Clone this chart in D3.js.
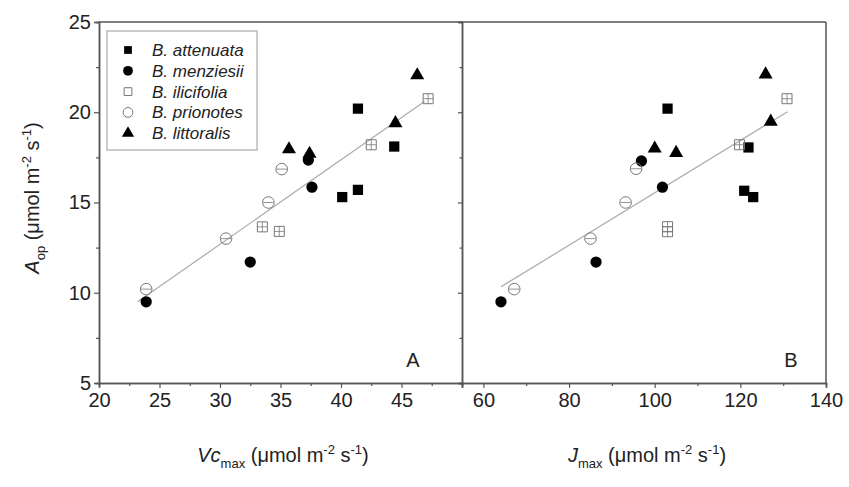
<!DOCTYPE html>
<html>
<head>
  <meta charset="utf-8">
  <title>Aop vs Vcmax and Jmax</title>
  <script src="https://d3js.org/d3.v7.min.js"></script>
  <style>
    body { margin: 0; background: #fff; }
    text { font-family: Arial, "Liberation Sans", sans-serif; fill: #222; }
  </style>
</head>
<body>
<svg width="849" height="487"></svg>
<script>
// species and values (4 points each)
var species = ["B. attenuata", "B. menziesii", "B. ilicifolia", "B. prionotes", "B. littoralis"];
var vcmax = [
  [41.4, 44.4, 41.4, 40.1],
  [23.9, 32.5, 37.6, 37.3],
  [33.5, 34.9, 42.5, 47.2],
  [23.9, 30.5, 34.0, 35.1],
  [35.7, 37.4, 44.5, 46.3]
];
var aopA = [
  [20.2, 18.1, 15.7, 15.3],
  [9.5, 11.7, 15.85, 17.35],
  [13.65, 13.4, 18.2, 20.75],
  [10.2, 13.0, 15.0, 16.85],
  [17.95, 17.7, 19.4, 22.05]
];
var jmax = [
  [103.0, 121.9, 120.9, 123.0],
  [64.1, 86.3, 101.8, 96.9],
  [103.0, 103.0, 119.8, 130.9],
  [67.2, 85.0, 93.2, 95.65],
  [100.0, 105.0, 127.1, 125.9]
];
var aopB = [
  [20.2, 18.05, 15.65, 15.3],
  [9.5, 11.7, 15.85, 17.3],
  [13.66, 13.38, 18.2, 20.75],
  [10.2, 13.0, 15.0, 16.87],
  [17.99, 17.75, 19.48, 22.1]
];
var fitA = [[23.2, 9.5], [46.9, 20.6]];
var fitB = [[64.1, 10.33], [131.0, 20.03]];

var xTicksA = [20, 25, 30, 35, 40, 45];
var xMinorA = [22.5, 27.5, 32.5, 37.5, 42.5, 47.5];
var xTicksB = [60, 80, 100, 120, 140];
var xMinorB = [70, 90, 110, 130];
var yTicks = [5, 10, 15, 20, 25];
var yMinor = [7.5, 12.5, 17.5, 22.5];

var svg = d3.select("svg");
var axisCol = "#555";
var openCol = "#777";

var y = d3.scaleLinear().domain([5, 25]).range([383, 22]);
var xA = d3.scaleLinear().domain([20, 50]).range([99, 462]);
var xB = d3.scaleLinear().domain([55, 140]).range([462, 826]);

// marker drawing
var styles = [
  {type: d3.symbolSquare, fill: "#000", size: 105, legSize: 60},
  {type: d3.symbolCircle, fill: "#000", size: 100, legSize: 75},
  {type: d3.symbolSquare, fill: "none", size: 100, legSize: 60, inner: "plus"},
  {type: d3.symbolCircle, fill: "none", size: 105, legSize: 75, inner: "dash"},
  {type: d3.symbolTriangle, fill: "#000", size: 85, legSize: 65}
];

function marker(g, st, cx, cy, size, withInner) {
  var m = g.append("g").attr("transform", "translate(" + cx + "," + cy + ")");
  m.append("path")
    .attr("d", d3.symbol().type(st.type).size(size)())
    .style("fill", st.fill)
    .style("stroke", st.fill === "none" ? openCol : "none")
    .style("stroke-width", 1);
  if (withInner && st.inner) {
    var h = Math.sqrt(size) / 2;
    m.append("line").attr("x1", -h).attr("x2", h).attr("y1", 0).attr("y2", 0)
      .style("stroke", openCol).style("stroke-width", 0.8);
    if (st.inner === "plus") {
      m.append("line").attr("x1", 0).attr("x2", 0).attr("y1", -h).attr("y2", h)
        .style("stroke", openCol).style("stroke-width", 0.8);
    }
  }
}

function panel(x, xs, ys, fit, majors, minors) {
  var g = svg.append("g");
  // fit line
  g.append("line")
    .attr("x1", x(fit[0][0])).attr("y1", y(fit[0][1]))
    .attr("x2", x(fit[1][0])).attr("y2", y(fit[1][1]))
    .style("stroke", "#aaa").style("stroke-width", 1.2);
  species.forEach(function(s, i) {
    xs[i].forEach(function(v, j) {
      marker(g, styles[i], x(v), y(ys[i][j]), styles[i].size, true);
    });
  });
  // x axis
  var ax = g.append("g").attr("transform", "translate(0,383)")
    .call(d3.axisBottom(x).tickValues(majors).tickSize(5).tickPadding(5).tickFormat(d3.format("d")));
  var axm = g.append("g").attr("transform", "translate(0,383)")
    .call(d3.axisBottom(x).tickValues(minors).tickSize(3).tickFormat(""));
  [ax, axm].forEach(function(a) {
    a.select(".domain").style("stroke", axisCol).style("stroke-width", 1.5);
    a.selectAll("line").style("stroke", axisCol).style("stroke-width", 1.2);
  });
  ax.selectAll("text").style("font-size", "20px").style("fill", "#222");
}

panel(xA, vcmax, aopA, fitA, xTicksA, xMinorA);
panel(xB, jmax, aopB, fitB, xTicksB, xMinorB);

// frame: top, right
svg.append("line").attr("x1", 99).attr("x2", 826).attr("y1", 22).attr("y2", 22)
  .style("stroke", axisCol).style("stroke-width", 1.5);
svg.append("line").attr("x1", 826).attr("x2", 826).attr("y1", 22).attr("y2", 383)
  .style("stroke", axisCol).style("stroke-width", 1.5);

// left y axis
var ay = svg.append("g").attr("transform", "translate(99,0)")
  .call(d3.axisLeft(y).tickValues(yTicks).tickSize(5).tickPadding(3));
var aym = svg.append("g").attr("transform", "translate(99,0)")
  .call(d3.axisLeft(y).tickValues(yMinor).tickSize(3).tickFormat(""));
// divider between panels
var ad = svg.append("g").attr("transform", "translate(462,0)")
  .call(d3.axisLeft(y).tickValues(yTicks).tickSize(4).tickFormat(""));
var adm = svg.append("g").attr("transform", "translate(462,0)")
  .call(d3.axisLeft(y).tickValues(yMinor).tickSize(2.5).tickFormat(""));
[ay, aym, ad, adm].forEach(function(a) {
  a.select(".domain").style("stroke", axisCol).style("stroke-width", 1.5);
  a.selectAll("line").style("stroke", axisCol).style("stroke-width", 1.2);
});
ay.selectAll("text").style("font-size", "20px").style("fill", "#222");

// panel letters
svg.append("text").attr("x", 413).attr("y", 367).attr("text-anchor", "middle")
  .style("font-size", "20px").text("A");
svg.append("text").attr("x", 791).attr("y", 367).attr("text-anchor", "middle")
  .style("font-size", "20px").text("B");

// legend
var leg = svg.append("g");
leg.append("rect").attr("x", 107).attr("y", 31).attr("width", 150).attr("height", 119)
  .style("fill", "#fff").style("stroke", "#999").style("stroke-width", 1);
species.forEach(function(s, i) {
  var ly = 50 + i * 20.8;
  marker(leg, styles[i], 128, ly, styles[i].legSize, false);
  leg.append("text").attr("x", 152).attr("y", ly + 6)
    .style("font-size", "17px").style("font-style", "italic").text(s);
});

// axis titles
function unitTitle(t, sym, sub) {
  t.append("tspan").style("font-style", "italic").text(sym);
  t.append("tspan").attr("dy", 6).style("font-size", "13px").text(sub);
  t.append("tspan").attr("dy", -6).text(" (\u03bcmol m");
  t.append("tspan").attr("dy", -8).style("font-size", "13px").text("-2");
  t.append("tspan").attr("dy", 8).text(" s");
  t.append("tspan").attr("dy", -8).style("font-size", "13px").text("-1");
  t.append("tspan").attr("dy", 8).text(")");
}

unitTitle(svg.append("text").attr("x", 283).attr("y", 462).attr("text-anchor", "middle")
  .style("font-size", "20px"), "Vc", "max");
unitTitle(svg.append("text").attr("x", 647).attr("y", 462).attr("text-anchor", "middle")
  .style("font-size", "20px"), "J", "max");
unitTitle(svg.append("text").attr("transform", "translate(39,198) rotate(-90)")
  .attr("text-anchor", "middle").style("font-size", "20px"), "A", "op");
</script>
</body>
</html>
